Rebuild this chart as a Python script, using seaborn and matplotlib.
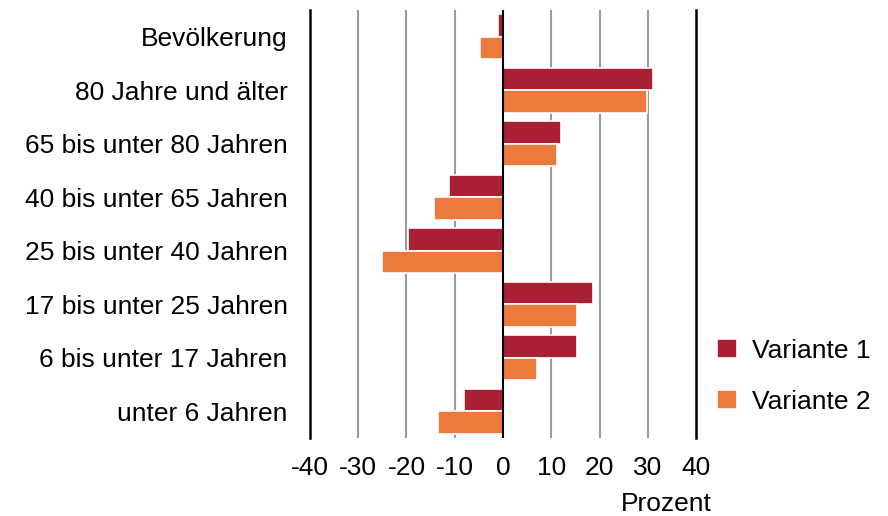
import pandas as pd
import matplotlib
matplotlib.use('Agg')
import matplotlib.pyplot as plt
import seaborn as sns

# --- PALETTE ---
DARK_RED = '#a91f33'
ORANGE = '#ed7a3d'
GRID_GREY = '#9a9a9a'
FONT_SIZE = 19

categories = [
    'Bevölkerung',
    '80 Jahre und älter',
    '65 bis unter 80 Jahren',
    '40 bis unter 65 Jahren',
    '25 bis unter 40 Jahren',
    '17 bis unter 25 Jahren',
    '6 bis unter 17 Jahren',
    'unter 6 Jahren',
]
variante_1 = [-1.1, 31.0, 12.0, -11.1, -19.6, 18.6, 15.3, -8.0]
variante_2 = [-4.8, 29.8, 11.1, -14.3, -25.0, 15.4, 7.1, -13.5]
series_names = ['Variante 1', 'Variante 2']
x_ticks = [-40, -30, -20, -10, 0, 10, 20, 30, 40]

df = pd.DataFrame({
    'Gruppe': categories * 2,
    'Wert': variante_1 + variante_2,
    'Variante': [series_names[0]] * len(categories) + [series_names[1]] * len(categories),
})

sns.set_style('white')
plt.rcParams['font.family'] = ['Liberation Sans', 'DejaVu Sans']
plt.rcParams['text.color'] = 'black'
plt.rcParams['xtick.color'] = 'black'
plt.rcParams['ytick.color'] = 'black'
plt.rcParams['axes.labelcolor'] = 'black'

fig = plt.figure(figsize=(8.88, 5.16), dpi=100)
ax = fig.add_axes([0.349, 0.151, 0.435, 0.830])

# gridlines behind bars, zero line in black
for t in x_ticks[1:-1]:
    ax.axvline(t, color='black' if t == 0 else GRID_GREY,
               lw=1.5, zorder=3 if t == 0 else 0)

sns.barplot(
    data=df, y='Gruppe', x='Wert', hue='Variante',
    order=categories, hue_order=series_names,
    palette=[DARK_RED, ORANGE], orient='h',
    width=0.84, edgecolor='white', linewidth=1.2,
    saturation=1, errorbar=None, ax=ax, zorder=2,
)

ax.set_xlim(-40, 40)
ax.set_ylim(len(categories) - 0.5, -0.5)
ax.set_xticks(x_ticks)
ax.set_xticklabels([str(t) for t in x_ticks])
ax.tick_params(axis='both', length=0, labelsize=FONT_SIZE)
ax.tick_params(axis='y', pad=16)
ax.tick_params(axis='x', pad=13)
ax.set_ylabel('')

ax.set_xlabel('Prozent', fontsize=FONT_SIZE, ha='right')
ax.xaxis.set_label_coords(1.039, -0.125)

for side in ['top', 'bottom']:
    ax.spines[side].set_visible(False)
for side in ['left', 'right']:
    ax.spines[side].set_color('black')
    ax.spines[side].set_linewidth(1.8)

handles, labels = ax.get_legend_handles_labels()
ax.legend(
    handles, labels,
    loc='upper left', bbox_to_anchor=(717 / 888, 1 - 339 / 516),
    bbox_transform=fig.transFigure,
    frameon=False, fontsize=FONT_SIZE,
    handlelength=0.74, handleheight=0.74,
    handletextpad=0.6, labelspacing=1.02,
    borderpad=0, borderaxespad=0,
)

fig.savefig('out.png', dpi=100)
